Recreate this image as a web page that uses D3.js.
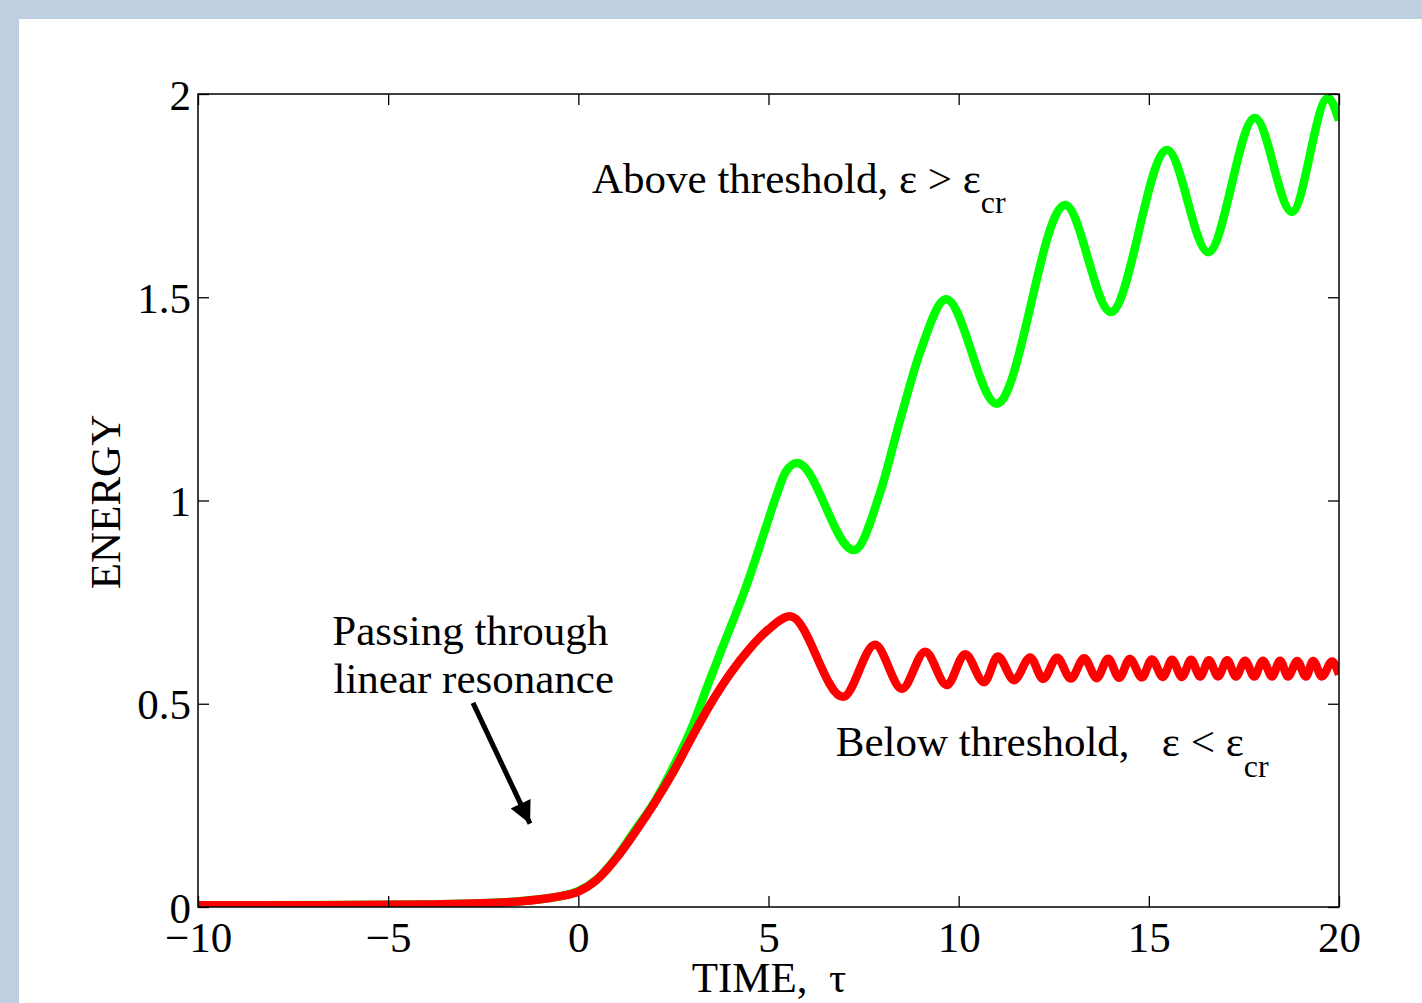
<!DOCTYPE html>
<html>
<head>
<meta charset="utf-8">
<title>Energy vs time</title>
<script src="https://cdn.jsdelivr.net/npm/d3@7"></script>
<style>
  body { margin: 0; background: #bdcfe0; }
  svg { display: block; }
  text { font-family: "Liberation Serif", "Times New Roman", serif; fill: #000; white-space: pre; }
</style>
</head>
<body>
<svg id="chart" width="1422" height="1003"></svg>
<script>
const xTicks = [-10, -5, 0, 5, 10, 15, 20];
const yTicks = [0, 0.5, 1, 1.5, 2];

// below threshold (red)
const tRed = [-10, -8, -6, -4, -3, -2, -1.5, -1, -0.5, 0, 0.5, 1.0, 1.5, 2.0, 2.5, 3.0, 3.5, 4.0, 4.5, 5.0, 5.57,
  6.96, 7.80, 8.51, 9.12, 9.69, 10.17, 10.67, 11.03, 11.46, 11.88, 12.22, 12.59, 12.95, 13.30, 13.63, 13.93,
  14.22, 14.50, 14.82, 15.08, 15.37, 15.61, 15.87, 16.11, 16.35, 16.58, 16.82, 17.06, 17.29, 17.53, 17.77, 18.0,
  18.24, 18.45, 18.66, 18.90, 19.13, 19.32, 19.55, 19.82, 20];
const eRed = [0.004, 0.004, 0.005, 0.006, 0.008, 0.011, 0.014, 0.019, 0.026, 0.038, 0.068, 0.12, 0.185, 0.255, 0.333, 0.42, 0.503, 0.575, 0.635, 0.683, 0.715,
  0.517, 0.645, 0.537, 0.628, 0.546, 0.622, 0.553, 0.616, 0.558, 0.614, 0.561, 0.613, 0.562, 0.612, 0.563, 0.611,
  0.564, 0.61, 0.565, 0.609, 0.566, 0.608, 0.566, 0.608, 0.567, 0.607, 0.567, 0.607, 0.567, 0.606, 0.567, 0.606,
  0.567, 0.606, 0.567, 0.605, 0.567, 0.605, 0.567, 0.604, 0.572];

// above threshold (green)
const tGreen = [-10, -6, -3, -1, -0.5, 0, 0.5, 1.0, 1.5, 2.0, 2.5, 3.0, 3.4, 3.9, 4.4, 4.9, 5.2, 5.45, 5.75, 7.25,
  7.93, 8.46, 8.98, 9.67, 11.0, 12.8, 14.0, 15.48, 16.56, 17.79,
  18.76, 19.71, 20];
const eGreen = [0.004, 0.005, 0.008, 0.019, 0.026, 0.039, 0.069, 0.122, 0.19, 0.258, 0.345, 0.445, 0.545, 0.665, 0.785, 0.925, 1.01, 1.07, 1.092, 0.878,
  1.018, 1.198, 1.363, 1.495, 1.238, 1.727, 1.464, 1.862, 1.611, 1.941,
  1.71, 1.99, 1.935];

const svg = d3.select("#chart");
const x = d3.scaleLinear().domain([-10, 20]).range([198, 1339]);
const y = d3.scaleLinear().domain([0, 2]).range([907, 94]);

// white panel
svg.append("rect").attr("x", 19).attr("y", 19).attr("width", 1422).attr("height", 1003).attr("fill", "#fff");

svg.append("clipPath").attr("id", "plot").append("rect")
  .attr("x", 198).attr("y", 94).attr("width", 1141).attr("height", 813);

const line = d3.line().x(d => x(d[0])).y(d => y(d[1])).curve(d3.curveMonotoneX);

svg.append("path").datum(d3.zip(tGreen, eGreen))
  .attr("d", line).attr("fill", "none").attr("stroke", "#00ff00").attr("stroke-width", 8.5)
  .attr("stroke-linejoin", "round").attr("clip-path", "url(#plot)");
svg.append("path").datum(d3.zip(tRed, eRed))
  .attr("d", line).attr("fill", "none").attr("stroke", "#ff0000").attr("stroke-width", 8.5)
  .attr("stroke-linejoin", "round").attr("clip-path", "url(#plot)");

// axes, ticks pointing in
const fmt = d3.format("~g");
const gx = svg.append("g").attr("transform", "translate(0,907)")
  .call(d3.axisBottom(x).tickValues(xTicks).tickSize(-11).tickSizeOuter(0).tickFormat(fmt));
gx.selectAll("text").attr("y", 45).attr("dy", null).style("font-size", "43px");
svg.append("g").attr("transform", "translate(0,94)")
  .call(d3.axisTop(x).tickValues(xTicks).tickSize(-11).tickSizeOuter(0).tickFormat(""));
const gy = svg.append("g").attr("transform", "translate(198,0)")
  .call(d3.axisLeft(y).tickValues(yTicks).tickSize(-11).tickSizeOuter(0).tickFormat(fmt));
gy.selectAll("text").attr("x", -7).attr("dy", 15).style("font-size", "43px");
svg.append("g").attr("transform", "translate(1339,0)")
  .call(d3.axisRight(y).tickValues(yTicks).tickSize(-11).tickSizeOuter(0).tickFormat(""));
svg.selectAll(".domain").remove();
svg.selectAll(".tick line").attr("stroke", "#000").attr("stroke-width", 1.3);

svg.append("rect").attr("x", 198).attr("y", 94).attr("width", 1141).attr("height", 813)
  .attr("fill", "none").attr("stroke", "#000").attr("stroke-width", 1.5);

// axis titles
svg.append("text").attr("x", 769).attr("y", 992).attr("text-anchor", "middle")
  .style("font-size", "43px").text("TIME,  \u03c4");
svg.append("text").attr("transform", "translate(120,502) rotate(-90)").attr("text-anchor", "middle")
  .style("font-size", "43px").text("ENERGY");

// annotations
const above = svg.append("text").attr("x", x(0.36)).attr("y", y(1.756)).style("font-size", "43px");
above.append("tspan").text("Above threshold, \u03b5 > \u03b5");
above.append("tspan").attr("dy", 20).style("font-size", "32px").text("cr");

const below = svg.append("text").attr("x", x(6.77)).attr("y", y(0.372)).style("font-size", "43px");
below.append("tspan").text("Below threshold,   \u03b5 < \u03b5");
below.append("tspan").attr("dy", 21).style("font-size", "32px").text("cr");

svg.append("text").attr("x", x(-2.84)).attr("y", y(0.645)).attr("text-anchor", "middle")
  .style("font-size", "43px").text("Passing through");
svg.append("text").attr("x", x(-2.75)).attr("y", y(0.527)).attr("text-anchor", "middle")
  .style("font-size", "43px").text("linear resonance");

// arrow
svg.append("defs").append("marker").attr("id", "head")
  .attr("viewBox", "0 0 10 10").attr("refX", 10).attr("refY", 5)
  .attr("markerWidth", 27).attr("markerHeight", 22).attr("markerUnits", "userSpaceOnUse")
  .attr("orient", "auto")
  .append("path").attr("d", "M0,0 L10,5 L0,10 z").attr("fill", "#000");
svg.append("line")
  .attr("x1", x(-2.77)).attr("y1", y(0.502)).attr("x2", x(-1.27)).attr("y2", y(0.205))
  .attr("stroke", "#000").attr("stroke-width", 5).attr("marker-end", "url(#head)");
</script>
</body>
</html>
